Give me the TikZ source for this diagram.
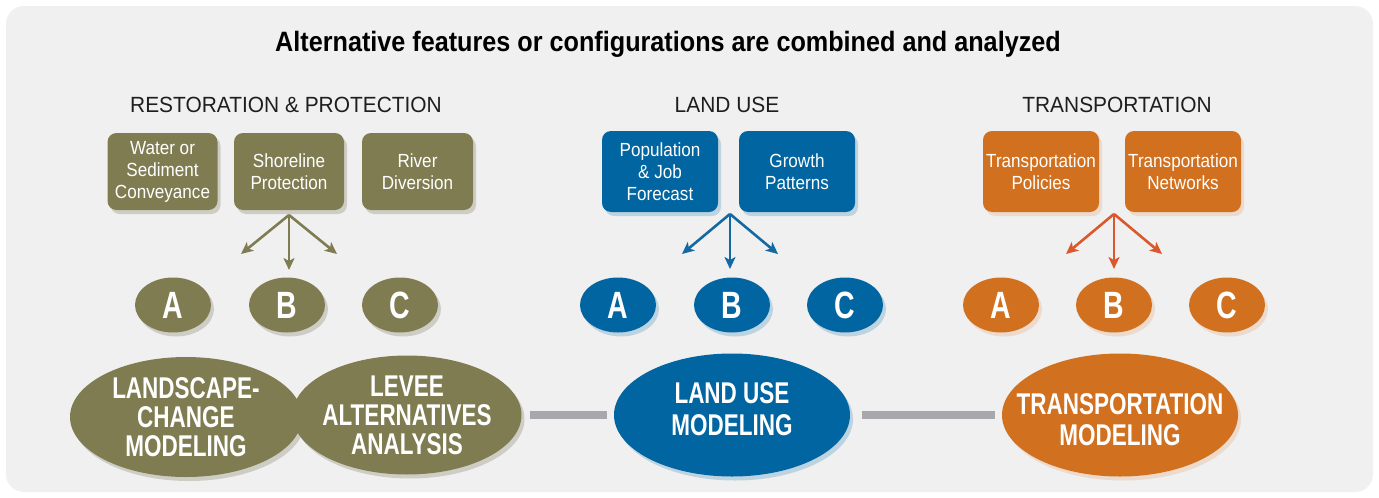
\documentclass[tikz,border=0pt]{standalone}
\usepackage{fontspec}
\setmainfont{Liberation Sans}[FakeStretch=0.9]
\newfontfamily\condfont{Liberation Sans}[FakeStretch=0.75]
\newfontfamily\titlefont{Liberation Sans}[FakeStretch=0.9]
\newfontfamily\headfont{Liberation Sans}[FakeStretch=0.95]
\usetikzlibrary{shadows,arrows.meta,shapes.geometric}
\definecolor{bgC}{RGB}{240,240,240}
\definecolor{oliveC}{RGB}{128,124,82}
\definecolor{blueC}{RGB}{0,101,160}
\definecolor{orangeC}{RGB}{209,112,31}
\definecolor{orangeA}{RGB}{218,88,43}
\definecolor{blueA}{RGB}{20,105,162}
\definecolor{lineC}{RGB}{167,168,171}
\definecolor{headC}{RGB}{30,30,30}
\begin{document}
\begin{tikzpicture}[x=1pt,y=-1pt,
  shad/.style={drop shadow={opacity=0.3, fill=#1, shadow xshift=3pt, shadow yshift=-4pt}},
  box/.style={rounded corners=9pt, inner sep=0pt, text=white, align=center,
    minimum height=79pt, font=\fontsize{19}{22}\selectfont},
  circ/.style={ellipse, inner sep=0pt, minimum width=76pt, minimum height=55pt,
    text=white, font=\condfont\bfseries\fontsize{38}{38}\selectfont},
  big/.style={ellipse, inner xsep=-40pt, inner ysep=-10pt, text=white, align=center,
    font=\condfont\bfseries\fontsize{30}{29}\selectfont},
  bigtext/.style={text=white, align=center, inner sep=0pt},
  head/.style={text=headC, font=\headfont\fontsize{22}{24}\selectfont},
  arr/.style={line width=2.6pt, -{Stealth[length=12pt,width=11pt,inset=3pt]}},
  conn/.style={lineC, line width=8pt}
]
\useasboundingbox (0,0) rectangle (1379,498);
\fill[white] (0,0) rectangle (1379,498);
\fill[bgC, rounded corners=18pt] (6,6) rectangle (1373,492);

\node[font=\titlefont\bfseries\fontsize{28}{30}\selectfont] (title) at (668,44)
  {Alternative features or configurations are combined and analyzed};

\node[head] (h1) at (286,105) {RESTORATION \& PROTECTION};
\node[head] (h2) at (727,105) {LAND USE};
\node[head] (h3) at (1117,105) {TRANSPORTATION};

% olive boxes
\node[box, shad=oliveC!60!gray, fill=oliveC, minimum width=110pt, minimum height=77pt] (o1) at (162.5,171.5) {Water or\\Sediment\\Conveyance};
\node[box, shad=oliveC!60!gray, fill=oliveC, minimum width=110pt, minimum height=77pt] (o2) at (289,171.5) {Shoreline\\Protection};
\node[box, shad=oliveC!60!gray, fill=oliveC, minimum width=111pt, minimum height=77pt] (o3) at (417.5,171.5) {River\\Diversion};
% blue boxes
\node[box, shad=blueC!70, fill=blueC, minimum width=116pt, minimum height=81pt] (b1) at (660,171.5) {Population\\\& Job\\Forecast};
\node[box, shad=blueC!70, fill=blueC, minimum width=116pt, minimum height=81pt] (b2) at (797,171.5) {Growth\\Patterns};
% orange boxes
\node[box, shad=orangeC!60, fill=orangeC, minimum width=116pt, minimum height=81pt] (r1) at (1041,171.5) {Transportation\\Policies};
\node[box, shad=orangeC!60, fill=orangeC, minimum width=116pt, minimum height=81pt] (r2) at (1183,171.5) {Transportation\\Networks};

% arrows
\coordinate (oa) at (289,215);
\coordinate (oL) at (241,254); \coordinate (oD) at (289,270); \coordinate (oR) at (337,254);
\draw[arr, oliveC] (oa) -- (oL);
\draw[arr, oliveC] (oa) -- (oD);
\draw[arr, oliveC] (oa) -- (oR);
\coordinate (ba) at (730,214);
\coordinate (bL) at (682,254); \coordinate (bD) at (730,269); \coordinate (bR) at (778,254);
\draw[arr, blueA] (ba) -- (bL);
\draw[arr, blueA] (ba) -- (bD);
\draw[arr, blueA] (ba) -- (bR);
\coordinate (ra) at (1114,214);
\coordinate (rL) at (1066,254); \coordinate (rD) at (1114,269); \coordinate (rR) at (1162,254);
\draw[arr, orangeA] (ra) -- (rL);
\draw[arr, orangeA] (ra) -- (rD);
\draw[arr, orangeA] (ra) -- (rR);

% letter circles
\foreach \x/\l in {173/A,287/B,400/C}
  \node[circ, shad=oliveC!60!gray, fill=oliveC] (o\l) at (\x,305) {\l};
\foreach \x/\l in {618/A,732/B,845/C}
  \node[circ, shad=blueC!70, fill=blueC] (b\l) at (\x,305) {\l};
\foreach \x/\l in {1001/A,1114/B,1227/C}
  \node[circ, shad=orangeC!60, fill=orangeC] (r\l) at (\x,305) {\l};

% big ellipses
\node[big, shad=oliveC!60!gray, fill=oliveC, minimum width=232pt, minimum height=120pt] (land) at (186,417) {LANDSCAPE-\\CHANGE\\MODELING};
\node[big, shad=oliveC!60!gray, fill=oliveC, minimum width=229pt, minimum height=119pt] (levee) at (407,415) {LEVEE\\ALTERNATIVES\\ANALYSIS};
\node[big, shad=blueC!70, fill=blueC, minimum width=236pt, minimum height=123pt] (lu) at (732,415) {};
\node[bigtext, font=\condfont\bfseries\fontsize{30}{32}\selectfont] (luT) at (732,409) {LAND USE\\MODELING};
\node[big, shad=orangeC!60, fill=orangeC, minimum width=236pt, minimum height=123pt] (tm) at (1120,415) {};
\node[bigtext, font=\condfont\bfseries\fontsize{30}{31}\selectfont] (tmT) at (1120,420) {TRANSPORTATION\\MODELING};

\draw[conn, shorten <=8pt, shorten >=7pt] (levee) -- (lu);
\draw[conn, shorten <=12pt, shorten >=7pt] (lu) -- (tm);
\end{tikzpicture}
\end{document}
